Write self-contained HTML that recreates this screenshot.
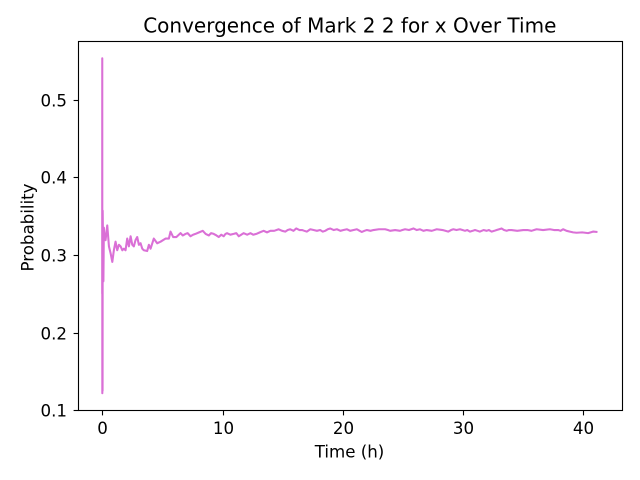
<!DOCTYPE html>
<html>
<head>
<meta charset="utf-8">
<title>Convergence of Mark 2 2 for x Over Time</title>
<style>
html,body{margin:0;padding:0;background:#fff;width:640px;height:480px;overflow:hidden}
svg{display:block}
text{font-family:"DejaVu Sans",sans-serif;fill:#000}
</style>
</head>
<body>
<svg id="chart" width="640" height="480" viewBox="0 0 640 480" xmlns="http://www.w3.org/2000/svg">
<rect width="640" height="480" fill="#fff"/>
<text x="349.8" y="32.5" font-size="20" text-anchor="middle">Convergence of Mark 2 2 for x Over Time</text>
<text x="349.5" y="457.5" font-size="16.67" text-anchor="middle">Time (h)</text>
<text transform="translate(33.5 227.5) rotate(-90)" font-size="16.67" text-anchor="middle">Probability</text>
<g id="ticks"></g>
<path id="series" fill="none" stroke="#da70d6" stroke-width="2.08" stroke-linejoin="round" stroke-linecap="butt"></path>
<rect x="78.5" y="41.5" width="544" height="369" fill="none" stroke="#000" stroke-width="1.11"/>
</svg>
<script>
const times = [0,0.005,0.01,0.02,0.03,0.04,0.1,0.14,0.2,
0.28,0.42,0.56,0.70,0.84,0.97,1.11,1.25,1.39,1.53,
1.67,1.80,1.94,2.08,2.22,2.36,2.50,2.63,2.77,2.91,
3.05,3.19,3.33,3.46,3.74,3.88,4.02,4.29,4.57,4.85,
5.26,5.54,5.68,5.90,6.17,6.51,
6.7,6.92,7.1,7.34,7.55,7.75,8.05,8.36,8.6,8.86,
9.05,9.27,9.5,9.69,9.9,10.1,10.25,10.38,10.65,10.93,
11.15,11.35,11.55,11.76,12.05,12.32,12.55,12.81,13.1,13.42,
13.7,13.98,14.3,14.67,14.95,15.22,15.42,15.63,15.9,16.13,
16.4,16.61,16.8,17.01,17.3,17.57,17.85,18.12,18.33,18.54,
18.75,18.95,19.25,19.51,19.8,20.06,20.35,20.61,20.9,21.17,
21.4,21.58,21.8,22,22.3,22.55,23,23.52,23.75,23.93,
24.35,24.76,24.95,25.18,25.5,25.87,26.15,26.42,26.7,26.98,
27.4,27.81,28.3,28.77,29,29.19,29.45,29.74,29.95,30.16,
30.35,30.57,30.8,30.99,31.2,31.4,31.7,31.96,32.15,32.37,
32.6,32.79,33,33.2,33.4,33.62,33.8,34.03,34.5,35,
35.35,35.69,35.9,36.11,36.65,37.21,37.55,37.9,38.1,38.31,
38.6,38.87,39.15,39.43,39.9,40.39,40.6,40.8,41.17];
const probabilities = [0.25,0.553,0.122,0.355,0.125,0.357,0.266,0.335,0.322,
0.319,0.338,0.311,0.302,0.291,0.306,0.317,0.306,0.313,0.311,
0.306,0.308,0.306,0.321,0.311,0.324,0.313,0.311,0.319,0.323,
0.313,0.315,0.308,0.306,0.305,0.313,0.308,0.321,0.315,0.317,
0.321,0.321,0.330,0.323,0.323,0.328,
0.325,0.327,0.328,0.324,0.326,0.327,0.329,0.331,0.327,0.325,
0.328,0.327,0.325,0.323,0.326,0.324,0.327,0.328,0.326,0.327,
0.328,0.324,0.326,0.328,0.326,0.328,0.326,0.327,0.329,0.331,
0.329,0.331,0.331,0.333,0.331,0.330,0.332,0.333,0.331,0.334,
0.332,0.332,0.331,0.330,0.333,0.332,0.331,0.332,0.330,0.331,
0.333,0.334,0.332,0.333,0.331,0.332,0.333,0.331,0.332,0.333,
0.331,0.3295,0.331,0.332,0.331,0.332,0.333,0.333,0.332,0.331,
0.332,0.331,0.332,0.333,0.332,0.334,0.332,0.333,0.331,0.332,
0.331,0.333,0.332,0.330,0.332,0.333,0.332,0.333,0.332,0.331,
0.332,0.330,0.331,0.332,0.331,0.330,0.332,0.331,0.332,0.330,
0.331,0.332,0.333,0.334,0.332,0.331,0.332,0.332,0.331,0.332,
0.332,0.331,0.332,0.333,0.332,0.333,0.332,0.332,0.331,0.333,
0.331,0.330,0.329,0.3285,0.329,0.328,0.329,0.330,0.3295];
const xTickValues = [0,10,20,30,40];
const yTickValues = [0.1,0.2,0.3,0.4,0.5];

function xScale(t){return 102.2+t*12.03;}
function yScale(v){return 410.3-(v-0.1)*777;}

const NS='http://www.w3.org/2000/svg';
const tickGroup=document.getElementById('ticks');
function addLine(x1,y1,x2,y2){
  const l=document.createElementNS(NS,'line');
  
  
  l.setAttribute('x1',x1);l.setAttribute('y1',y1);l.setAttribute('x2',x2);l.setAttribute('y2',y2);
  l.setAttribute('stroke','#000');l.setAttribute('stroke-width','1.11');
  tickGroup.appendChild(l);
}
function addLabel(x,y,anchor,str){
  const t=document.createElementNS(NS,'text');
  
  
  t.setAttribute('x',x);t.setAttribute('y',y);t.setAttribute('text-anchor',anchor);
  t.setAttribute('font-size','16.67');
  t.textContent=str;
  tickGroup.appendChild(t);
}
xTickValues.forEach(function(v){
  const x=Math.round(xScale(v))+0.5;
  addLine(x,410.5,x,415.4);
  addLabel(x,434,'middle',String(v));
});
yTickValues.forEach(function(v){
  const y=Math.round(yScale(v))+0.5;
  addLine(78.5,y,73.6,y);
  addLabel(67,y+6,'end',v.toFixed(1));
});
let d='';
times.forEach(function(t,i){
  d+=(i?'L':'M')+xScale(t).toFixed(2)+' '+yScale(probabilities[i]).toFixed(2);
});
document.getElementById('series').setAttribute('d',d);
</script>
</body>
</html>
